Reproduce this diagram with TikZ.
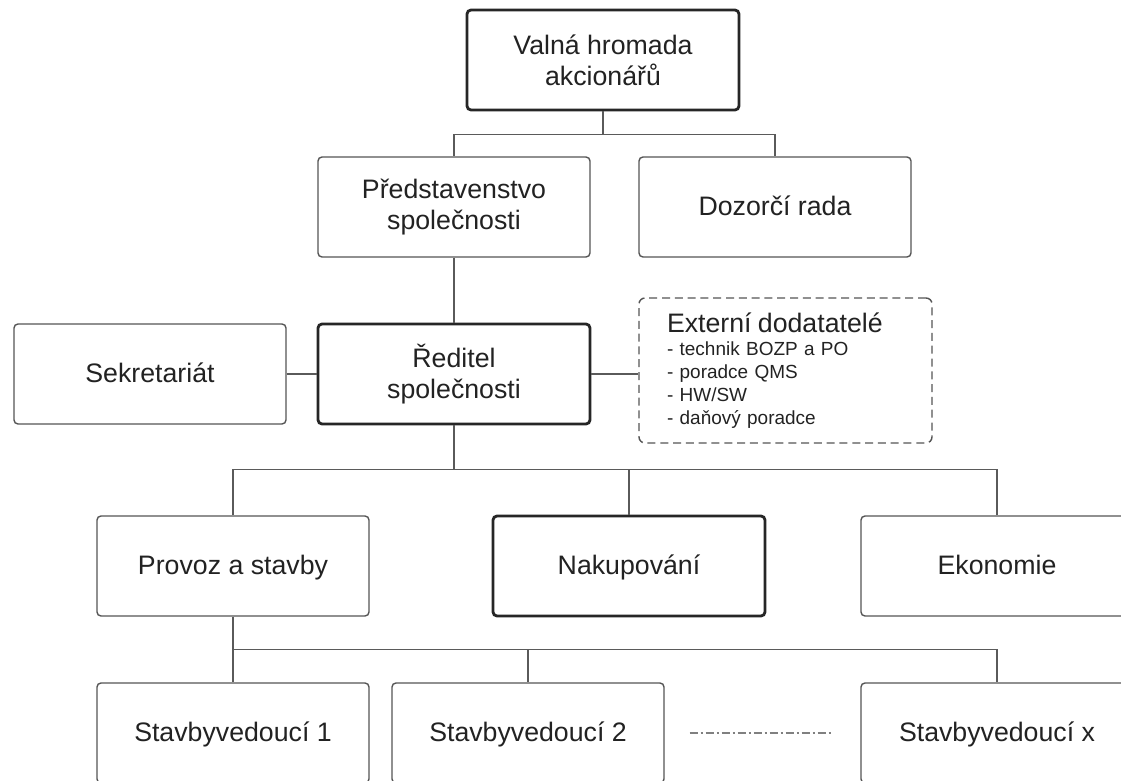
\documentclass[tikz,border=0pt]{standalone}
\usepackage{fontspec}
\setmainfont{Liberation Sans}
\definecolor{boxgray}{HTML}{555555}
\definecolor{linegray}{HTML}{5A5A5A}
\definecolor{textgray}{HTML}{222222}

\begin{document}
\begin{tikzpicture}[
  box/.style={draw=boxgray, line width=1pt, rounded corners=0.1cm, fill=white,
    minimum width=6.8cm, minimum height=2.5cm, align=center, text=textgray,
    font=\fontsize{19}{22}\selectfont},
  oneline/.style={text height=15pt, text depth=3.6pt},
  keybox/.style={box, draw=black!85, line width=2pt},
  extbox/.style={draw=boxgray, line width=1pt, rounded corners=0.15cm,
    dash pattern=on 0.2cm off 0.12cm, text=textgray, align=left,
    text width=5.925cm, inner xsep=0.7cm, minimum height=3.625cm,
    font=\fontsize{13.5}{16.4}\selectfont},
  link/.style={draw=linegray, line width=1pt}
]
  % Picture frame, the right and bottom boxes run past it
  \clip (0,0) rectangle (28.025,-19.525);

  % Top of the company
  \node[keybox] (valna) at (15.075,-1.5) {Valná hromada\\akcionářů};
  \node[box] (predst) at (11.35,-5.175) {Představenstvo\\společnosti};
  \node[box, oneline] (dozor) at (19.375,-5.175) {Dozorčí rada};

  % Director with staff and suppliers
  \node[box, oneline] (sekret) at (3.75,-9.35) {Sekretariát};
  \node[keybox] (reditel) at (11.35,-9.35) {Ředitel\\společnosti};
  \node[extbox] (extern) at (19.6375,-9.2625) {%
    {\fontsize{19}{16.4}\selectfont Externí dodatatelé}\\
    - technik BOZP a PO\\
    - poradce QMS\\
    - HW/SW\\
    - daňový poradce};

  % Departments
  \node[box, oneline] (provoz) at (5.825,-14.15) {Provoz a stavby};
  \node[keybox, oneline] (nakup) at (15.725,-14.15) {Nakupování};
  \node[box, oneline] (ekon) at (24.925,-14.15) {Ekonomie};

  % Site managers
  \node[box, oneline] (sv1) at (5.825,-18.325) {Stavbyvedoucí 1};
  \node[box, oneline] (sv2) at (13.2,-18.325) {Stavbyvedoucí 2};
  \node[box, oneline] (svx) at (24.925,-18.325) {Stavbyvedoucí x};

  % Connectors
  \draw[link] (valna.south) -- ++(0,-0.575) coordinate (bus1);
  \draw[link] (bus1) -| (predst.north);
  \draw[link] (bus1) -| (dozor.north);
  \draw[link] (predst.south) -- (reditel.north);
  \draw[link] (sekret.east) -- (reditel.west);
  \draw[link] (reditel.east) -- (reditel.east -| extern.west);
  \draw[link] (reditel.south) -- ++(0,-1.1) coordinate (bus2);
  \draw[link] (bus2) -| (provoz.north);
  \draw[link] (bus2) -| (nakup.north);
  \draw[link] (bus2) -| (ekon.north);
  \draw[link] (provoz.south) -- ++(0,-0.825) coordinate (bus3);
  \draw[link] (bus3) -| (sv1.north);
  \draw[link] (bus3) -| (sv2.north);
  \draw[link] (bus3) -| (svx.north);

  % More site managers in between
  \draw[draw=gray, line width=1.2pt, dash pattern=on 0.2cm off 0.07cm on 0.06cm off 0.07cm,
    shorten <=0.625cm, shorten >=0.675cm] (sv2.east) -- (svx.west);
\end{tikzpicture}
\end{document}
